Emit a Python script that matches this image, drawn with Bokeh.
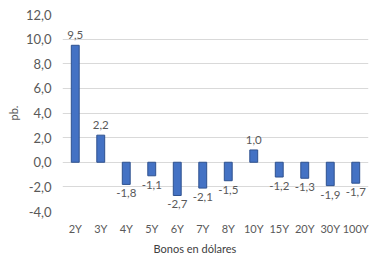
from bokeh.plotting import figure
from bokeh.models import ColumnDataSource, FixedTicker, CustomJSTickFormatter, Title
from bokeh.core.properties import value
from bokeh.embed import file_html
from bokeh.resources import INLINE

categories = ["2Y", "3Y", "4Y", "5Y", "6Y", "7Y", "8Y", "10Y", "15Y", "20Y", "30Y", "100Y"]
values = [9.5, 2.2, -1.8, -1.1, -2.7, -2.1, -1.5, 1.0, -1.2, -1.3, -1.9, -1.7]
y_ticks = [-4, -2, 0, 2, 4, 6, 8, 10, 12]
y_label = "pb."
x_label = "Bonos en dólares"

FONT = "Lato"
GREY = "#595959"

labels = [("%.1f" % v).replace(".", ",") for v in values]
pos = [v >= 0 for v in values]

src_pos = ColumnDataSource(dict(
    x=[c for c, p in zip(categories, pos) if p],
    y=[v for v, p in zip(values, pos) if p],
    t=[l for l, p in zip(labels, pos) if p]))
src_neg = ColumnDataSource(dict(
    x=[c for c, p in zip(categories, pos) if not p],
    y=[v for v, p in zip(values, pos) if not p],
    t=[l for l, p in zip(labels, pos) if not p]))
src = ColumnDataSource(dict(x=categories, y=values))

p = figure(x_range=categories, y_range=(min(y_ticks), max(y_ticks)),
           output_backend="svg", toolbar_location=None,
           frame_width=306, frame_height=197,
           min_border_left=62, min_border_right=1, min_border_top=14, min_border_bottom=4)
p.outline_line_color = None
p.background_fill_color = "white"
p.border_fill_color = "white"

p.vbar(x="x", top="y", bottom=0, width=0.31, source=src,
       fill_color="#4472C4", line_color="#2F528F", line_width=1)

p.text(x="x", y="y", text="t", source=src_pos, text_align="center", text_baseline="bottom",
       y_offset=-6, text_font=value(FONT), text_font_size="11.5px", text_color=GREY)
p.text(x="x", y="y", text="t", source=src_neg, text_align="center", text_baseline="top",
       y_offset=5, text_font=value(FONT), text_font_size="11.5px", text_color=GREY)

p.yaxis.ticker = FixedTicker(ticks=y_ticks)
p.yaxis.formatter = CustomJSTickFormatter(code="return tick.toFixed(1).replace('.', ',');")
p.yaxis.axis_line_color = None
p.yaxis.major_tick_line_color = None
p.yaxis.minor_tick_line_color = None
p.yaxis.major_tick_out = 0
p.yaxis.major_tick_in = 0
p.yaxis.minor_tick_out = 0
p.yaxis.major_label_text_font = FONT
p.yaxis.major_label_text_font_size = "13px"
p.yaxis.major_label_text_color = GREY
p.yaxis.major_label_standoff = 11
p.yaxis.axis_label = y_label
p.yaxis.axis_label_text_font = FONT
p.yaxis.axis_label_text_font_size = "11px"
p.yaxis.axis_label_text_font_style = "normal"
p.yaxis.axis_label_text_color = GREY
p.yaxis.axis_label_standoff = 3

p.xaxis.axis_line_color = None
p.xaxis.major_tick_line_color = None
p.xaxis.minor_tick_line_color = None
p.xaxis.major_tick_out = 0
p.xaxis.major_tick_in = 0
p.xaxis.minor_tick_out = 0
p.xaxis.major_label_text_font = FONT
p.xaxis.major_label_text_font_size = "11px"
p.xaxis.major_label_text_color = GREY
p.xaxis.major_label_standoff = 10

p.xgrid.grid_line_color = None
p.ygrid.grid_line_color = "#D9D9D9"
p.ygrid.grid_line_width = 1

t = Title(text=x_label, align="left", offset=91, text_font=FONT, text_font_size="11px",
          text_font_style="normal", text_color="#404040", standoff=5)
p.add_layout(t, "below")

open("out.html", "w").write(file_html(p, INLINE))
